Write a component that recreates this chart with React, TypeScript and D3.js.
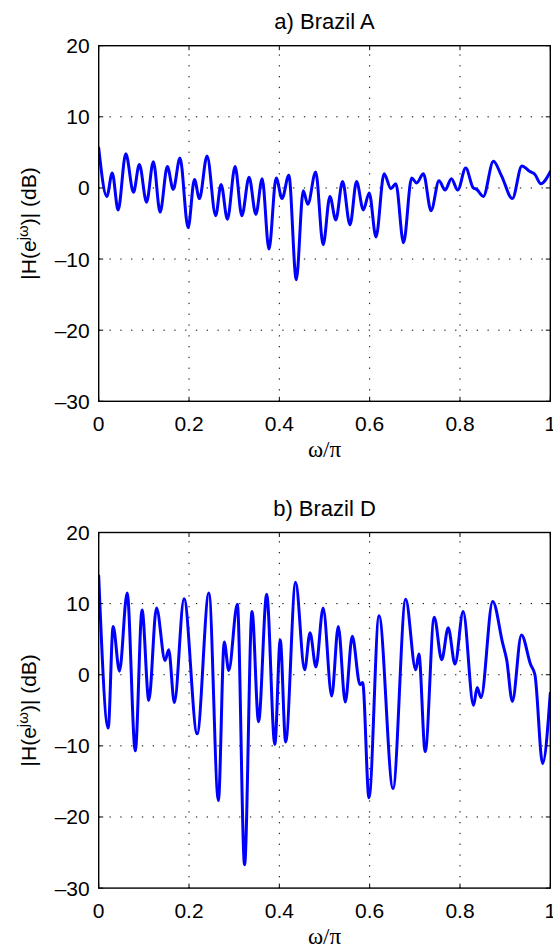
import React from 'react';
import * as d3 from 'd3';

const W = 553;
const H = 949;

const xTicks = [0, 0.2, 0.4, 0.6, 0.8, 1];
const xTickLabels = ['0', '0.2', '0.4', '0.6', '0.8', '1'];
const yTicks = [-30, -20, -10, 0, 10, 20];
const yTickLabels = ['\u201330', '\u201320', '\u201310', '0', '10', '20'];
const xGrid = [0.2, 0.4, 0.6, 0.8];
const yGrid = [-20, -10, 0, 10];
const titles = ['a) Brazil A', 'b) Brazil D'];

// Brazil A: local extrema / shape points (omega/pi, dB)
const brazilA_w = [
  0.000, 0.018, 0.030, 0.043, 0.060, 0.077, 0.090, 0.106, 0.121, 0.136,
  0.152, 0.165, 0.180, 0.198, 0.212, 0.223, 0.240, 0.259, 0.271, 0.285,
  0.302, 0.317, 0.333, 0.348, 0.362, 0.377, 0.393, 0.406, 0.421, 0.4375,
  0.453, 0.463, 0.4805, 0.497, 0.512, 0.525, 0.540, 0.5565, 0.571, 0.586,
  0.599, 0.614, 0.632, 0.647, 0.658, 0.675, 0.693, 0.704, 0.719, 0.736,
  0.7535, 0.767, 0.781, 0.795, 0.8127, 0.8295, 0.837, 0.8517, 0.874, 0.892,
  0.916, 0.937, 0.955, 0.966, 0.979, 1.000,
];
const brazilA_dB = [
  5.6, -1.2, 2.1, -3.1, 4.8, -0.6, 3.3, -2.0, 3.7, -3.4,
  3.0, -0.2, 4.2, -5.6, 1.2, -1.5, 4.5, -3.9, 0.5, -4.4,
  3.0, -3.9, 1.5, -3.7, 1.3, -8.6, 1.4, -1.5, 1.8, -12.9,
  -0.4, -2.3, 2.25, -8.0, -1.2, -4.5, 0.9, -5.2, 0.9, -3.1,
  -0.7, -6.9, 2.0, -0.1, 0.6, -7.7, 1.4, 0.7, 2.0, -3.2,
  1.0, -0.3, 1.3, -0.3, 2.8, 0.0, -0.2, -1.2, 3.75, 1.7,
  -1.5, 3.1, 2.3, 1.9, 0.6, 2.3,
];

// Brazil D
const brazilD_w = [
  0.000, 0.021, 0.032, 0.046, 0.063, 0.081, 0.096, 0.111, 0.128, 0.147,
  0.155, 0.1675, 0.189, 0.218, 0.244, 0.265, 0.278, 0.288, 0.307, 0.323,
  0.3395, 0.354, 0.372, 0.390, 0.402, 0.414, 0.436, 0.456, 0.468, 0.481,
  0.497, 0.516, 0.5305, 0.546, 0.5615, 0.5786, 0.5845, 0.5985, 0.6207, 0.6517,
  0.6798, 0.702, 0.709, 0.723, 0.743, 0.7595, 0.774, 0.789, 0.807, 0.830,
  0.838, 0.8465, 0.8724, 0.8946, 0.9034, 0.916, 0.936, 0.9566, 0.966, 0.983,
  1.000,
];
const brazilD_dB = [
  13.9, -7.5, 6.8, 0.5, 11.5, -10.7, 9.1, -3.6, 9.4, 2.0,
  3.5, -3.9, 10.7, -8.3, 11.5, -17.7, 4.6, 0.6, 9.9, -26.7,
  8.9, -6.6, 11.3, -9.8, 4.9, -9.45, 13.0, 0.7, 5.9, 1.1,
  9.4, -3.0, 6.8, -3.85, 5.4, -1.4, -1.1, -17.3, 8.3, -16.0,
  10.6, 0.7, 2.9, -10.8, 8.1, 2.1, 6.6, 1.5, 8.9, -4.3,
  -1.8, -3.2, 10.3, 4.4, 2.1, -3.75, 5.6, 1.4, 0.0, -12.5,
  -2.6,
];

const SANS = '"Liberation Sans", Arial, Helvetica, sans-serif';
const SERIF = '"Liberation Serif", "Times New Roman", serif';

const LEFT = 98.7;
const RIGHT = 550.3;
const PH = 355.6;
const TICK = 4.5;

function Panel(props: { top: number; title: string; w: number[]; dB: number[]; id: string }) {
  const { top, title, w, dB, id } = props;
  const bottom = top + PH;
  const x = d3.scaleLinear().domain([0, 1]).range([LEFT, RIGHT]);
  const y = d3.scaleLinear().domain([-30, 20]).range([bottom, top]);
  const line = d3
    .line<number>()
    .x((_, i) => x(w[i]))
    .y((d) => y(d))
    .curve(d3.curveMonotoneX);
  const path = line(dB) || '';
  const midY = (top + bottom) / 2;
  const midX = (LEFT + RIGHT) / 2;
  return (
    <g>
      <defs>
        <clipPath id={id}>
          <rect x={LEFT} y={top} width={RIGHT - LEFT} height={PH} />
        </clipPath>
      </defs>
      <rect x={LEFT} y={top} width={RIGHT - LEFT} height={PH} fill="#fff" />
      {xGrid.map((t) => (
        <line key={'gx' + t} x1={x(t)} x2={x(t)} y1={bottom} y2={top}
          stroke="#000" strokeWidth={1} strokeDasharray="1.3 9.5" />
      ))}
      {yGrid.map((t) => (
        <line key={'gy' + t} x1={LEFT} x2={RIGHT} y1={y(t)} y2={y(t)}
          stroke="#000" strokeWidth={1} strokeDasharray="1.3 9.5" />
      ))}
      <path d={path} fill="none" stroke="#0000ff" strokeWidth={3} strokeLinejoin="round"
        strokeLinecap="round" clipPath={`url(#${id})`} />
      {xTicks.map((t) => (
        <g key={'tx' + t}>
          <line x1={x(t)} x2={x(t)} y1={bottom} y2={bottom - TICK} stroke="#000" strokeWidth={1} />
          <line x1={x(t)} x2={x(t)} y1={top} y2={top + TICK} stroke="#000" strokeWidth={1} />
        </g>
      ))}
      {yTicks.map((t) => (
        <g key={'ty' + t}>
          <line x1={LEFT} x2={LEFT + TICK} y1={y(t)} y2={y(t)} stroke="#000" strokeWidth={1} />
          <line x1={RIGHT} x2={RIGHT - TICK} y1={y(t)} y2={y(t)} stroke="#000" strokeWidth={1} />
        </g>
      ))}
      <rect x={LEFT} y={top} width={RIGHT - LEFT} height={PH} fill="none" stroke="#000" strokeWidth={1.4} />
      {xTicks.map((t, i) => (
        <text key={'lx' + t} x={x(t)} y={bottom + 30} textAnchor="middle"
          fontFamily={SANS} fontSize={21} fill="#000">{xTickLabels[i]}</text>
      ))}
      {yTicks.map((t, i) => (
        <text key={'ly' + t} x={LEFT - 9} y={y(t) + 7.5} textAnchor="end"
          fontFamily={SANS} fontSize={21} fill="#000">{yTickLabels[i]}</text>
      ))}
      <text x={midX} y={top - 17} textAnchor="middle" fontFamily={SANS} fontSize={22} fill="#000">{title}</text>
      <text x={midX} y={bottom + 56} textAnchor="middle" fontFamily={SERIF} fontSize={23} fill="#000">ω/π</text>
      <text transform={`translate(36, ${midY}) rotate(-90)`} textAnchor="middle"
        fontFamily={SANS} fontSize={21} fill="#000">
        <tspan>|H(e</tspan>
        <tspan dy={-8} fontSize={15}>jω</tspan>
        <tspan dy={8}>)| (dB)</tspan>
      </text>
    </g>
  );
}

export default function App() {
  return (
    <svg width={W} height={H} viewBox={`0 0 ${W} ${H}`}
      style={{ position: 'absolute', left: 0, top: 0, background: '#fff' }}>
      <rect x={0} y={0} width={W} height={H} fill="#fff" />
      <Panel top={45.7} title={titles[0]} w={brazilA_w} dB={brazilA_dB} id="clipA" />
      <Panel top={532.5} title={titles[1]} w={brazilD_w} dB={brazilD_dB} id="clipD" />
    </svg>
  );
}
